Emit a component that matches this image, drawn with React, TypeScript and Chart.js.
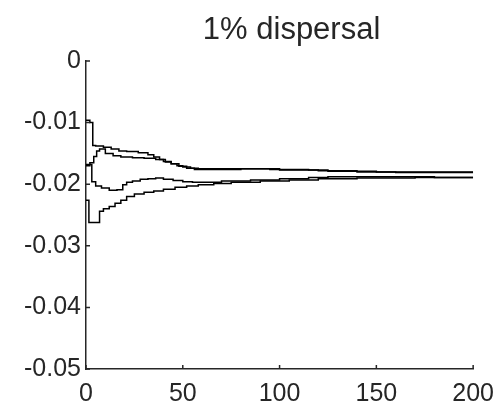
import React, { useEffect, useRef } from "react";
import { Chart, registerables } from "chart.js";

Chart.register(...registerables);

const titleText = "1% dispersal";
const xTicks = [0, 50, 100, 150, 200];
const yTicks = [0, -0.01, -0.02, -0.03, -0.04, -0.05];

const xA = [0, 2, 3.5, 5, 9, 13, 17, 21, 27, 32, 35, 38, 41, 44, 47, 50, 54, 58, 75, 95, 115, 125, 150, 175, 200];
const yA = [-0.0096, -0.01, -0.0137, -0.0138, -0.014, -0.0143, -0.0146, -0.0147, -0.0149, -0.0152, -0.0156, -0.016, -0.0164, -0.0167, -0.017, -0.0172, -0.0174, -0.0175, -0.0175, -0.0176, -0.0177, -0.0179, -0.018, -0.018, -0.018];

const xB = [0, 2, 4, 5.5, 7, 10, 14, 18, 24, 30, 36, 40, 44, 48, 52, 56, 60, 80, 100, 120, 140, 160, 200];
const yB = [-0.017, -0.0165, -0.0155, -0.0146, -0.0143, -0.015, -0.0154, -0.0156, -0.0157, -0.0158, -0.016, -0.0163, -0.0167, -0.0171, -0.0174, -0.0176, -0.0176, -0.0175, -0.0177, -0.0178, -0.018, -0.0181, -0.0181];

const xC = [0, 3, 5, 8, 12, 16, 19, 21, 24, 28, 32, 36, 40, 45, 50, 55, 60, 70, 85, 100, 115, 125, 140, 160, 180, 200];
const yC = [-0.0168, -0.0196, -0.0203, -0.0206, -0.021, -0.0209, -0.0201, -0.0197, -0.0195, -0.0192, -0.0191, -0.019, -0.0192, -0.0194, -0.0196, -0.0197, -0.0197, -0.0195, -0.0193, -0.0191, -0.0189, -0.0188, -0.0188, -0.0188, -0.0189, -0.0189];

const xD = [0, 1.5, 7, 9, 12, 15, 18, 21, 25, 30, 35, 40, 46, 52, 58, 66, 75, 90, 105, 120, 140, 170, 200];
const yD = [-0.0226, -0.0262, -0.0244, -0.024, -0.0236, -0.0231, -0.0226, -0.022, -0.0216, -0.0213, -0.0211, -0.0208, -0.0205, -0.0203, -0.0201, -0.0199, -0.0197, -0.0195, -0.0193, -0.0191, -0.019, -0.0189, -0.0189];

const seriesX = [xA, xB, xC, xD];
const seriesY = [yA, yB, yC, yD];

const textColor = "#262626";
const fontFamily = "'Liberation Sans', Arial, sans-serif";

const innerTicks = {
  id: "innerTicks",
  afterDraw(chart: any) {
    const { ctx, chartArea } = chart;
    const xs = chart.scales.x;
    const ys = chart.scales.y;
    ctx.save();
    ctx.strokeStyle = textColor;
    ctx.lineWidth = 1.5;
    ctx.beginPath();
    xTicks.forEach((v) => {
      const px = xs.getPixelForValue(v);
      ctx.moveTo(px, chartArea.bottom);
      ctx.lineTo(px, chartArea.bottom - 4);
    });
    yTicks.forEach((v) => {
      const py = ys.getPixelForValue(v);
      ctx.moveTo(chartArea.left, py);
      ctx.lineTo(chartArea.left + 4, py);
    });
    ctx.stroke();
    // title, centred slightly right of the axes centre as in the reference
    ctx.fillStyle = textColor;
    ctx.font = `31px ${fontFamily}`;
    ctx.textAlign = "center";
    ctx.textBaseline = "alphabetic";
    ctx.fillText(titleText, (chartArea.left + chartArea.right) / 2 + 12, chartArea.top - 22);
    ctx.restore();
  },
};

export default function App() {
  const ref = useRef<HTMLCanvasElement | null>(null);
  useEffect(() => {
    if (!ref.current) return;
    const datasets = seriesX.map((xs, i) => ({
      data: xs.map((x, j) => ({ x, y: seriesY[i][j] })),
      borderColor: "#000000",
      borderWidth: 1.5,
      pointRadius: 0,
      fill: false,
      stepped: "before" as const,
    }));
    const chart = new Chart(ref.current, {
      type: "line",
      data: { datasets },
      plugins: [innerTicks],
      options: {
        animation: false,
        responsive: false,
        events: [],
        layout: { padding: { left: 0, right: 27, top: 61, bottom: 0 } },
        plugins: {
          legend: { display: false },
          tooltip: { enabled: false },
          title: { display: false },
        },
        scales: {
          x: {
            type: "linear",
            min: 0,
            max: 200,
            afterFit: (s: any) => {
              s.height = 39;
            },
            afterBuildTicks: (s: any) => {
              s.ticks = xTicks.map((v) => ({ value: v }));
            },
            ticks: {
              color: textColor,
              font: { family: fontFamily, size: 25 },
              padding: 10,
              maxRotation: 0,
              callback: (v: any) => String(v),
            },
            grid: { display: true, drawOnChartArea: false, drawTicks: false },
            border: { display: true, color: textColor, width: 1.5 },
          },
          y: {
            type: "linear",
            min: -0.05,
            max: 0,
            afterFit: (s: any) => {
              s.width = 86;
            },
            afterBuildTicks: (s: any) => {
              s.ticks = yTicks.map((v) => ({ value: v }));
            },
            ticks: {
              color: textColor,
              font: { family: fontFamily, size: 25 },
              padding: 5,
              callback: (v: any) => {
                const n = Math.round(Number(v) * 100) / 100;
                return n === 0 ? "0" : n.toFixed(2);
              },
            },
            grid: { display: true, drawOnChartArea: false, drawTicks: false },
            border: { display: true, color: textColor, width: 1.5 },
          },
        },
      },
    });
    return () => chart.destroy();
  }, []);
  return (
    <div style={{ position: "absolute", left: 0, top: 0, width: 504, height: 408, background: "#fff" }}>
      <canvas ref={ref} width={504} height={408} style={{ width: 504, height: 408 }} />
    </div>
  );
}
